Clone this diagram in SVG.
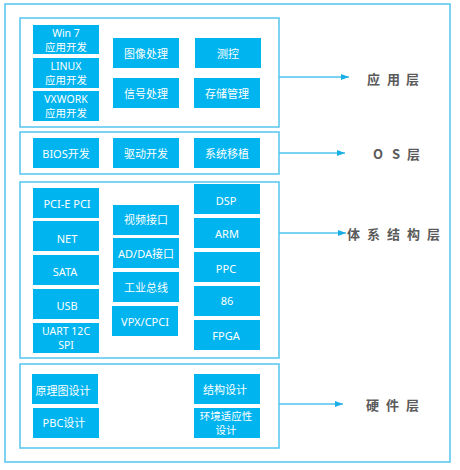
<svg xmlns="http://www.w3.org/2000/svg" width="460" height="470" viewBox="0 0 460 470">
<style>
.frame{fill:none;stroke:#55c5ee;stroke-width:1.5}
.box{fill:#00b4ef}
.t{font-family:"Noto Sans","Noto Sans CJK SC",sans-serif;font-size:11px;fill:#ffffff;text-anchor:middle;dominant-baseline:central}
.t2{font-family:"Noto Sans","Noto Sans CJK SC",sans-serif;font-size:10.5px;fill:#ffffff;text-anchor:middle;dominant-baseline:central}
.lbl{font-family:"Noto Sans CJK SC","Noto Sans",sans-serif;font-size:13px;font-weight:bold;fill:#5a5a5a;dominant-baseline:central}
.conn{stroke:#4fc3ee;stroke-width:1.5;fill:none}
</style>
<defs>
<marker id="arr" viewBox="0 0 8 6" refX="8" refY="3" markerWidth="8" markerHeight="6" markerUnits="userSpaceOnUse" orient="auto">
<path d="M0,0 L8,3 L0,6 Z" fill="#1aaee6"/>
</marker>
</defs>
<rect class="frame" x="5" y="4" width="445" height="458"/>
<g id="app-layer">
<rect class="frame" x="20" y="18" width="259" height="109"/>
<g id="win7"><rect class="box" x="33" y="25" width="66" height="29"/><text class="t2" x="66" y="32.5">Win 7</text><text class="t2" x="66" y="47">应用开发</text></g>
<g id="linux"><rect class="box" x="33" y="58" width="66" height="30"/><text class="t2" x="66" y="65.5">LINUX</text><text class="t2" x="66" y="80">应用开发</text></g>
<g id="vxwork"><rect class="box" x="33" y="91" width="66" height="30"/><text class="t2" x="66" y="98.5">VXWORK</text><text class="t2" x="66" y="113">应用开发</text></g>
<g id="image"><rect class="box" x="113" y="38" width="66" height="30"/><text class="t" x="146" y="53">图像处理</text></g>
<g id="signal"><rect class="box" x="113" y="78" width="66" height="30"/><text class="t" x="146" y="93">信号处理</text></g>
<g id="control"><rect class="box" x="195" y="38" width="66" height="30"/><text class="t" x="228" y="53">测控</text></g>
<g id="storage"><rect class="box" x="194" y="78" width="66" height="30"/><text class="t" x="227" y="93">存储管理</text></g>
</g>
<g id="os-layer">
<rect class="frame" x="20" y="132" width="259" height="42"/>
<g id="bios"><rect class="box" x="33" y="138" width="66" height="30"/><text class="t" x="66" y="153">BIOS开发</text></g>
<g id="driver"><rect class="box" x="113" y="138" width="66" height="30"/><text class="t" x="146" y="153">驱动开发</text></g>
<g id="port"><rect class="box" x="194" y="138" width="66" height="30"/><text class="t" x="227" y="153">系统移植</text></g>
</g>
<g id="arch-layer">
<rect class="frame" x="20" y="182" width="259" height="176"/>
<g id="pcie"><rect class="box" x="33" y="188" width="66" height="30"/><text class="t" x="67" y="203">PCI-E PCI</text></g>
<g id="net"><rect class="box" x="33" y="221" width="66" height="30"/><text class="t" x="67" y="238">NET</text></g>
<g id="sata"><rect class="box" x="33" y="255" width="66" height="30"/><text class="t" x="65" y="271">SATA</text></g>
<g id="usb"><rect class="box" x="33" y="289" width="66" height="30"/><text class="t" x="67" y="305">USB</text></g>
<g id="uart"><rect class="box" x="33" y="323" width="66" height="30"/><text class="t2" x="66" y="331">UART 12C</text><text class="t2" x="66" y="345">SPI</text></g>
<g id="video"><rect class="box" x="113" y="205" width="66" height="30"/><text class="t" x="146" y="219">视频接口</text></g>
<g id="adda"><rect class="box" x="113" y="238" width="66" height="30"/><text class="t" x="146" y="253">AD/DA接口</text></g>
<g id="bus"><rect class="box" x="113" y="272" width="66" height="30"/><text class="t" x="146" y="287">工业总线</text></g>
<g id="vpx"><rect class="box" x="112" y="306" width="66" height="30"/><text class="t" x="145" y="321">VPX/CPCI</text></g>
<g id="dsp"><rect class="box" x="194" y="184" width="66" height="30"/><text class="t" x="226" y="200">DSP</text></g>
<g id="arm"><rect class="box" x="194" y="218" width="66" height="30"/><text class="t" x="227" y="233">ARM</text></g>
<g id="ppc"><rect class="box" x="194" y="252" width="66" height="30"/><text class="t" x="226" y="268">PPC</text></g>
<g id="x86"><rect class="box" x="194" y="286" width="66" height="30"/><text class="t" x="227" y="300">86</text></g>
<g id="fpga"><rect class="box" x="194" y="320" width="66" height="30"/><text class="t" x="226" y="335">FPGA</text></g>
</g>
<g id="hw-layer">
<rect class="frame" x="20" y="364" width="259" height="84"/>
<g id="schematic"><rect class="box" x="32" y="374" width="66" height="30"/><text class="t" x="63" y="390">原理图设计</text></g>
<g id="pbc"><rect class="box" x="33" y="408" width="66" height="30"/><text class="t" x="64" y="422">PBC设计</text></g>
<g id="struct"><rect class="box" x="194" y="374" width="66" height="30"/><text class="t" x="225" y="389">结构设计</text></g>
<g id="env"><rect class="box" x="194" y="408" width="66" height="30"/><text class="t2" x="226" y="416">环境适应性</text><text class="t2" x="226" y="430">设计</text></g>
</g>
<g id="connectors">
<line class="conn" x1="279" y1="77" x2="349" y2="77" marker-end="url(#arr)"/>
<line class="conn" x1="279" y1="153" x2="345" y2="153" marker-end="url(#arr)"/>
<line class="conn" x1="279" y1="233" x2="346" y2="233" marker-end="url(#arr)"/>
<line class="conn" x1="279" y1="404" x2="343" y2="404" marker-end="url(#arr)"/>
</g>
<g id="labels">
<text class="lbl" x="367 387 406" y="78">应用层</text>
<text class="lbl" x="373 392 407" y="153">OS层</text>
<text class="lbl" x="347 367 387 407 427" y="233">体系结构层</text>
<text class="lbl" x="366 386 406" y="404">硬件层</text>
</g>
</svg>
